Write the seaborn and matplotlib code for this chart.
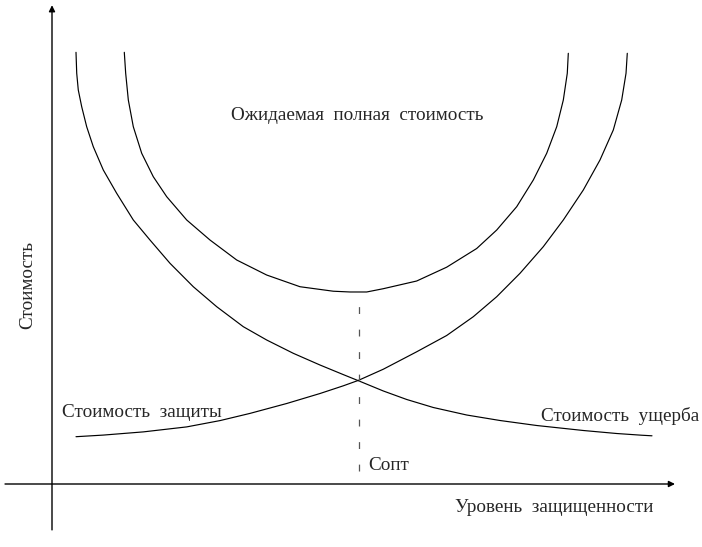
import matplotlib
matplotlib.use("Agg")
import matplotlib.pyplot as plt
import seaborn as sns
import pandas as pd

# --- data (security level vs. cost, arbitrary units) ---
damage_x = [4.0, 4.12, 4.38, 4.95, 5.78, 6.88, 8.55, 10.78, 13.55, 16.33, 19.67, 23.55,
            27.45, 31.88, 35.78, 40.22, 44.67, 48.55, 51.05, 55.22, 59.12, 63.55, 69.12,
            74.67, 80.78, 88.55, 94.12, 98.28, 100.0]
damage_y = [95.93, 91.27, 87.56, 83.84, 79.4, 74.96, 69.78, 64.6, 58.67, 54.22, 49.04, 43.84,
            39.4, 34.96, 32.0, 29.04, 26.44, 24.31, 22.96, 20.67, 18.78, 17.0, 15.33,
            14.11, 13.0, 11.89, 11.22, 10.84, 10.71]

protect_x = [4.0, 8.55, 15.22, 22.45, 28.0, 33.0, 39.12, 44.67, 48.55, 51.05, 55.22, 60.78,
             65.78, 70.22, 74.12, 78.0, 81.88, 85.22, 88.55, 91.33, 93.55, 94.95, 95.67, 95.88]
protect_y = [10.51, 10.87, 11.58, 12.69, 14.09, 15.69, 17.89, 20.11, 21.82, 23.02, 25.51, 29.38,
             33.0, 37.18, 41.62, 46.82, 52.73, 58.67, 65.33, 72.0, 78.67, 85.33, 91.27, 95.71]

total_x = [12.05, 12.28, 12.72, 13.55, 14.95, 16.88, 19.12, 22.45, 26.33, 30.78, 35.78, 41.33,
           46.88, 49.67, 52.45, 55.22, 60.78, 65.78, 70.78, 74.12, 77.45, 80.22, 82.45,
           84.12, 85.22, 85.88, 86.05]
total_y = [95.93, 91.27, 85.33, 79.4, 73.49, 68.29, 63.84, 58.67, 54.22, 49.78, 46.44, 43.84,
           42.84, 42.67, 42.67, 43.4, 45.11, 48.18, 52.33, 56.44, 61.62, 67.56, 73.49,
           79.4, 85.33, 91.27, 95.71]

opt_x = 51.17
opt_y = [42.0, 3.0]

labels = {
    "total": "Ожидаемая  полная  стоимость",
    "protect": "Стоимость  защиты",
    "damage": "Стоимость  ущерба",
    "opt": "Сопт",
    "xlabel": "Уровень  защищенности",
    "ylabel": "Стоимость",
}

sns.set_theme(style="white")
plt.rcParams["font.family"] = ["Liberation Serif", "DejaVu Serif"]

fig = plt.figure(figsize=(7.02, 5.47), dpi=100)
ax = fig.add_axes([0, 0, 1, 1])

frames = []
for name, xs, ys in [("damage", damage_x, damage_y),
                     ("protect", protect_x, protect_y),
                     ("total", total_x, total_y)]:
    frames.append(pd.DataFrame({"x": xs, "y": ys, "curve": name}))
df = pd.concat(frames, ignore_index=True)

sns.lineplot(data=df, x="x", y="y", units="curve", estimator=None, sort=False,
             color="black", linewidth=0.85, ax=ax, legend=False)

ax.vlines(opt_x, opt_y[1], opt_y[0], colors="#555555", linewidth=0.9,
          linestyles=[(0, (5.5, 12.5))])

ax.set_xlim(-52 / 6, 650 / 6)
ax.set_ylim(-63 / 4.5, 484 / 4.5)
ax.axis("off")

# axes with arrows
ax.annotate("", xy=(103.83, 0), xytext=(-7.83, 0),
            arrowprops=dict(arrowstyle="-|>", color="black", lw=1.0,
                            mutation_scale=9, shrinkA=0, shrinkB=0))
ax.annotate("", xy=(0, 106.4), xytext=(0, -10.2),
            arrowprops=dict(arrowstyle="-|>", color="black", lw=1.0,
                            mutation_scale=9, shrinkA=0, shrinkB=0))

fs = 13.8
ax.text(50.83, 81.78, labels["total"], ha="center", va="center", fontsize=fs)
ax.text(1.67, 15.8, labels["protect"], ha="left", va="center", fontsize=fs)
ax.text(81.5, 15.1, labels["damage"], ha="left", va="center", fontsize=fs)
ax.text(52.67, 4.2, labels["opt"], ha="left", va="center", fontsize=fs)
ax.text(67.17, -5.33, labels["xlabel"], ha="left", va="center", fontsize=fs)
ax.text(-4.0, 44.2, labels["ylabel"], ha="center", va="center", rotation=90, fontsize=fs)

fig.savefig("out.png", dpi=100)
